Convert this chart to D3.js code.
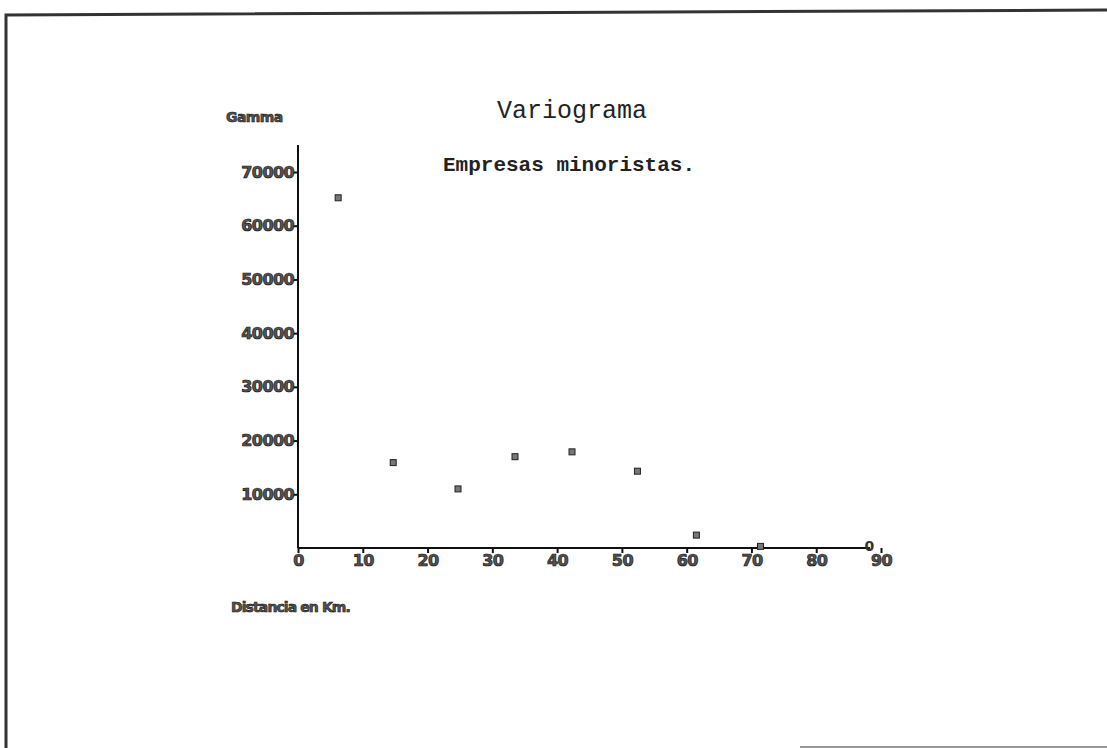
<!DOCTYPE html>
<html>
<head>
<meta charset="utf-8">
<script src="https://cdn.jsdelivr.net/npm/d3@7"></script>
<style>
body{margin:0;background:#fff;}
</style>
</head>
<body>
<div id="grafico"></div>
<script>
var distancias = [6.2, 14.7, 24.7, 33.5, 42.3, 52.4, 61.5, 71.4];
var gammas = [65200, 15900, 11000, 17000, 17900, 14300, 2400, 300];
var ticksY = [10000, 20000, 30000, 40000, 50000, 60000, 70000];
var ticksX = [0, 10, 20, 30, 40, 50, 60, 70, 80, 90];

var width = 1107;
var height = 748;

var fuenteEje = "DejaVu Sans, Verdana, sans-serif";
var fuenteTitulo = "Liberation Mono, Courier New, monospace";

var svg = d3.select("#grafico").append("svg")
		.attr("width", width)
		.attr("height", height);

// marco del papel escaneado
svg.append("path")
	.attr("d", "M6,748 L6,15 L1107,10")
	.style("fill", "none")
	.style("stroke", "#333")
	.style("stroke-width", 3);
svg.append("line")
	.attr("x1", 800).attr("y1", 747).attr("x2", 1107).attr("y2", 747)
	.style("stroke", "#777")
	.style("stroke-width", 1.5);

var x = d3.scaleLinear().domain([0, 90]).range([298, 881]);
var y = d3.scaleLinear().domain([0, 70000]).range([548, 172]);

var ejeX = svg.append("g")
	.attr("transform", "translate(0,548)")
	.call(d3.axisBottom(x).tickValues(ticksX).tickSize(5).tickSizeOuter(0));
ejeX.select(".domain").attr("d", "M" + x(0) + ",0H" + x(88.3));

var ejeY = svg.append("g")
	.attr("transform", "translate(298,0)")
	.call(d3.axisLeft(y).tickValues(ticksY).tickSize(5).tickSizeOuter(0).tickFormat(d3.format("d")));
ejeY.select(".domain").attr("d", "M0," + y(0) + "V145");

svg.selectAll(".domain, .tick line")
	.style("stroke", "#111")
	.style("stroke-width", 2);

svg.selectAll(".tick text")
	.attr("font-family", fuenteEje)
	.attr("font-size", "16px")
	.attr("font-weight", "bold")
	.attr("letter-spacing", "-0.6px")
	.attr("fill", "#555")
	.attr("stroke", "#111")
	.attr("stroke-width", 0.7);
ejeY.selectAll(".tick text").attr("x", -4);
ejeX.selectAll(".tick text").attr("y", 7);

// marca final del eje
svg.append("text")
	.attr("x", x(88.2))
	.attr("y", 551)
	.attr("text-anchor", "middle")
	.attr("font-family", fuenteEje)
	.attr("font-size", "14px")
	.attr("font-weight", "bold")
	.attr("fill", "#333")
	.text("0");

var puntos = distancias.map(function(d, i){ return {"d": d, "g": gammas[i]}; });

svg.selectAll("rect.punto")
	.data(puntos)
	.enter()
	.append("rect")
	.attr("class", "punto")
	.attr("x", function(d){ return x(d.d) - 3; })
	.attr("y", function(d){ return y(d.g) - 3; })
	.attr("width", 6)
	.attr("height", 6)
	.style("fill", "#777")
	.style("stroke", "#222")
	.style("stroke-width", 1);

svg.append("text")
	.attr("x", 572)
	.attr("y", 118)
	.attr("text-anchor", "middle")
	.attr("font-family", fuenteTitulo)
	.attr("font-size", "25px")
	.attr("fill", "#222")
	.text("Variograma");

svg.append("text")
	.attr("x", 569)
	.attr("y", 171)
	.attr("text-anchor", "middle")
	.attr("font-family", fuenteTitulo)
	.attr("font-size", "21px")
	.attr("font-weight", "bold")
	.attr("fill", "#222")
	.text("Empresas minoristas.");

svg.append("text")
	.attr("x", 226)
	.attr("y", 122)
	.attr("font-family", fuenteEje)
	.attr("font-size", "14px")
	.attr("font-weight", "bold")
	.attr("letter-spacing", "-0.6px")
	.attr("fill", "#555")
	.attr("stroke", "#111")
	.attr("stroke-width", 0.6)
	.text("Gamma");

svg.append("text")
	.attr("x", 231)
	.attr("y", 612)
	.attr("font-family", fuenteEje)
	.attr("font-size", "14px")
	.attr("font-weight", "bold")
	.attr("letter-spacing", "-0.9px")
	.attr("fill", "#555")
	.attr("stroke", "#111")
	.attr("stroke-width", 0.6)
	.text("Distancia en Km.");
</script>
</body>
</html>
